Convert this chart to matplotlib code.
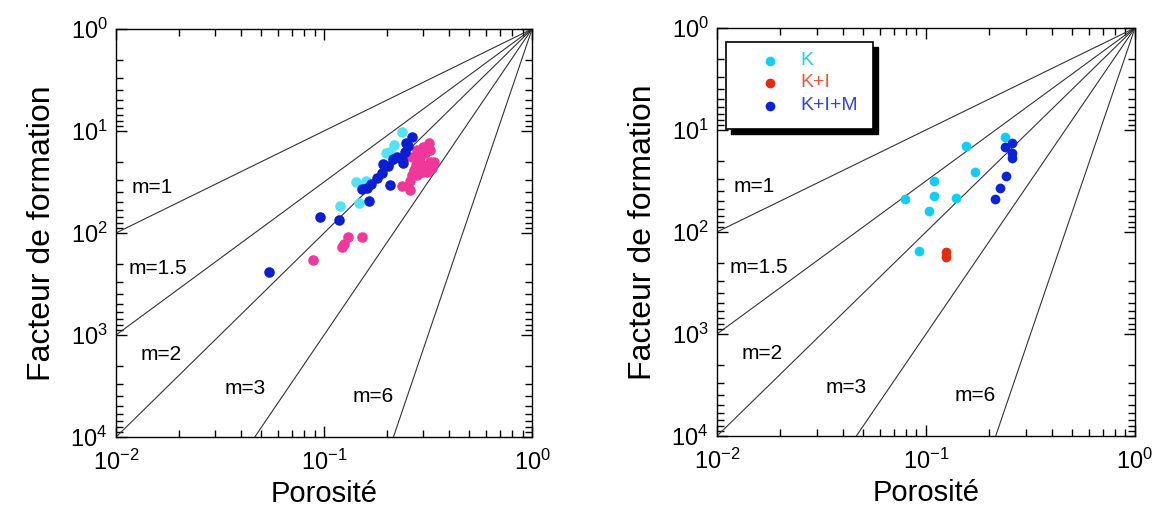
import numpy as np
import matplotlib
matplotlib.use('Agg')
import matplotlib.pyplot as plt
from matplotlib.patches import Rectangle
from matplotlib.ticker import LogLocator, NullFormatter

plt.rcParams['font.family'] = ['Liberation Sans', 'DejaVu Sans']
plt.rcParams['mathtext.default'] = 'regular'

# Cementation exponents of the reference lines F = phi^-m
m_values = [1, 1.5, 2, 3, 6]
m_labels = ['m=1', 'm=1.5', 'm=2', 'm=3', 'm=6']
m_label_phi = [0.0150, 0.0159, 0.0165, 0.0417, 0.1725]
m_label_F = [36, 225, 1570, 3380, 4050]

# Left panel
cyan_left_phi = [0.236, 0.218, 0.207, 0.199, 0.143, 0.159, 0.119, 0.147]
cyan_left_F = [10.2, 13.7, 16, 16.6, 32, 31, 54, 51]

blue_left_phi = [0.264, 0.249, 0.0546, 0.0958, 0.118, 0.165, 0.207, 0.152,
                 0.160, 0.169, 0.179, 0.189, 0.193, 0.204, 0.215, 0.223,
                 0.236, 0.245, 0.254, 0.240]
blue_left_F = [11.5, 13.2, 240, 69, 75, 49, 34, 37,
               36, 33, 29, 26, 21, 22, 19, 18,
               19, 16, 14, 20.7]

pink_left_phi = [0.0883, 0.122, 0.125, 0.130, 0.152, 0.236, 0.259, 0.259,
                 0.318, 0.300, 0.323, 0.279, 0.290, 0.264, 0.246, 0.323,
                 0.336, 0.300, 0.276, 0.272, 0.295, 0.312, 0.264, 0.279,
                 0.306, 0.330]
pink_left_F = [184, 136, 128, 109, 109, 35, 38, 31,
               13.2, 14.3, 15.5, 15.4, 17.9, 17.9, 17.9, 20,
               20, 21.5, 21.5, 24, 25, 25, 27, 27,
               16.5, 23]

# Right panel
k_phi = [0.155, 0.239, 0.171, 0.109, 0.109, 0.0791, 0.139, 0.103, 0.0923]
k_F = [14.4, 11.8, 26, 32, 44, 48, 46, 63, 154]

ki_phi = [0.124, 0.124]
ki_F = [157, 175]

kim_phi = [0.259, 0.239, 0.259, 0.259, 0.241, 0.226, 0.215]
kim_F = [13.3, 14.8, 17, 19, 28, 37, 48]

legend_names = ['K', 'K+I', 'K+I+M']
legend_text_colors = ['#22cff2', '#f0553a', '#3344e0']


def setupAxes(ax):
    """ Log-log axes, formation factor growing downwards. """
    ax.set_xscale('log')
    ax.set_yscale('log')
    ax.set_xlim(1e-2, 1)
    ax.set_ylim(1e4, 1)
    ax.xaxis.set_major_locator(LogLocator(base=10))
    ax.yaxis.set_major_locator(LogLocator(base=10))
    ax.xaxis.set_minor_locator(LogLocator(base=10, subs=np.arange(2, 10)))
    ax.yaxis.set_minor_locator(LogLocator(base=10, subs=np.arange(2, 10)))
    ax.xaxis.set_minor_formatter(NullFormatter())
    ax.yaxis.set_minor_formatter(NullFormatter())
    ax.tick_params(which='both', direction='in', top=True, right=True,
                   labelsize=17, width=1)
    ax.tick_params(which='major', length=8)
    ax.tick_params(axis='y', which='major', pad=6)
    ax.tick_params(axis='x', which='major', pad=9)
    ax.tick_params(which='minor', length=5)
    for s in ax.spines.values():
        s.set_linewidth(1.0)

    phi = np.logspace(-2, 0, 200)
    for m, lab, lx, ly in zip(m_values, m_labels, m_label_phi, m_label_F):
        ax.plot(phi, phi ** (-m), color='#333333', lw=0.8)
        ax.text(lx, ly, lab, fontsize=15, ha='center', va='center')

    ax.set_xlabel('Porosité', fontsize=21, labelpad=4)
    ax.set_ylabel('Facteur de formation', fontsize=23, labelpad=10)


fig = plt.figure(figsize=(11.57, 5.07), dpi=100)
ax1 = fig.add_axes([0.1003, 0.138, 0.3596, 0.805])
ax2 = fig.add_axes([0.6197, 0.140, 0.3613, 0.805])

setupAxes(ax1)
ax1.plot(cyan_left_phi, cyan_left_F, 'o', color='#52e4f4', ms=7.6, mew=0)
ax1.plot(pink_left_phi, pink_left_F, 'o', color='#f2379a', ms=7.6, mew=0)
ax1.plot(blue_left_phi, blue_left_F, 'o', color='#0b1fd0', ms=7.6, mew=0)

setupAxes(ax2)
ax2.plot(k_phi, k_F, 'o', color='#14cdf4', ms=7, mew=0)
ax2.plot(ki_phi, ki_F, 'o', color='#e62a0c', ms=7, mew=0)
ax2.plot(kim_phi, kim_F, 'o', color='#0a24d6', ms=7, mew=0)

# hand-made legend box with a hard black shadow
bx, by, bw, bh = 0.0215, 0.752, 0.352, 0.214
ax2.add_patch(Rectangle((bx + 0.012, by - 0.012), bw, bh, transform=ax2.transAxes,
                        facecolor='black', edgecolor='black', zorder=5))
ax2.add_patch(Rectangle((bx, by), bw, bh, transform=ax2.transAxes,
                        facecolor='white', edgecolor='black', lw=1.2, zorder=6))
row_y = [0.920, 0.866, 0.809]
marker_colors = ['#14cdf4', '#e62a0c', '#0a24d6']
for yy, name, mc, tc in zip(row_y, legend_names, marker_colors, legend_text_colors):
    ax2.plot([0.127], [yy], 'o', color=mc, ms=7, mew=0,
             transform=ax2.transAxes, zorder=7, clip_on=False)
    ax2.text(0.2, yy, name, color=tc, fontsize=14, va='center', ha='left',
             transform=ax2.transAxes, zorder=7)

fig.savefig('out.png', dpi=100)
